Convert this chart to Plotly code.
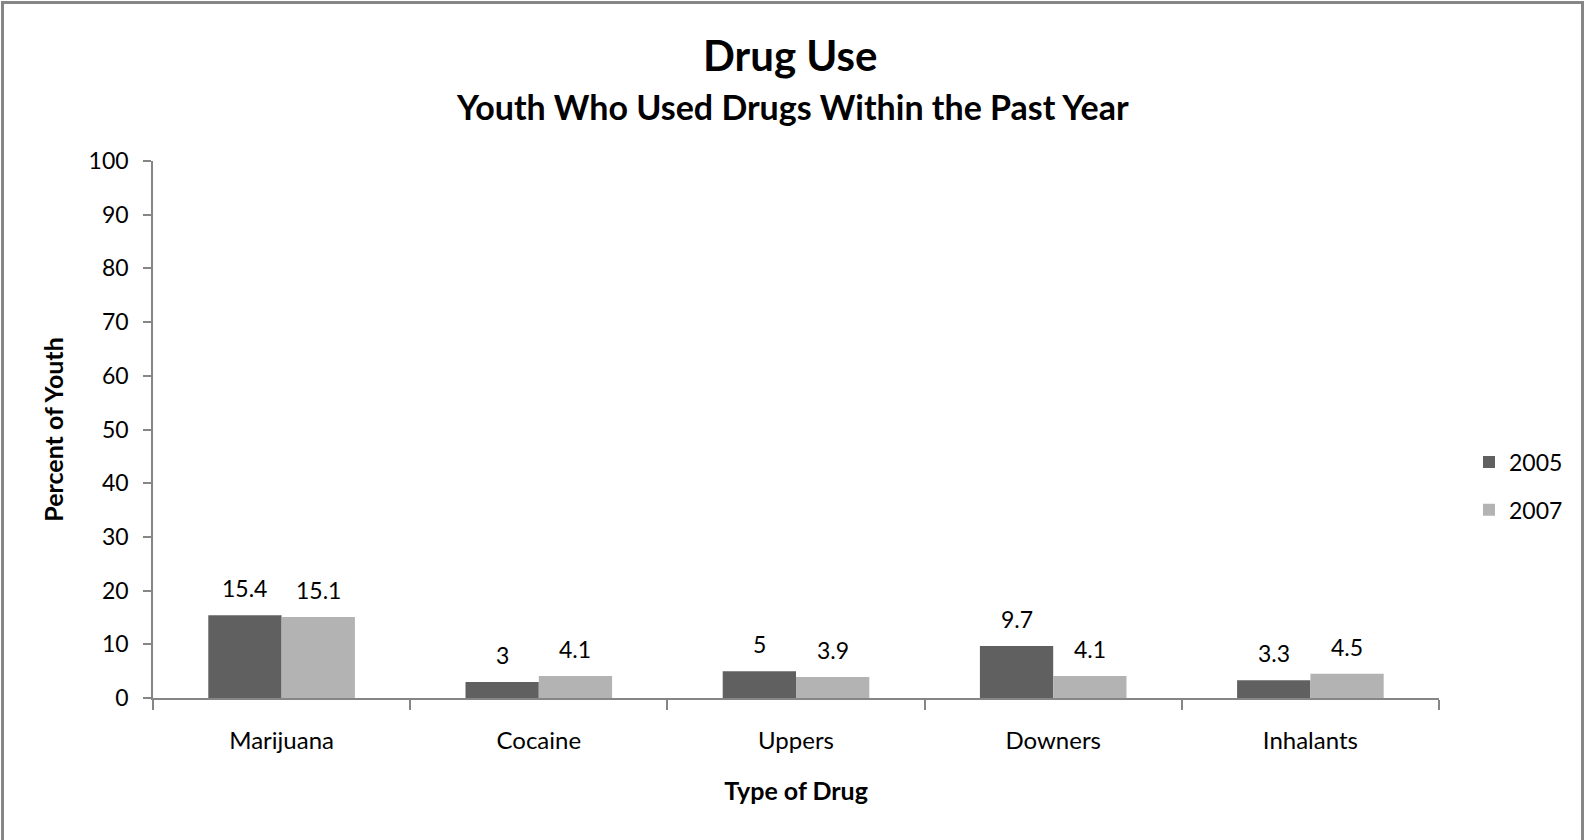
import plotly.graph_objects as go

categories = ["Marijuana", "Cocaine", "Uppers", "Downers", "Inhalants"]
values_2005 = [15.4, 3, 5, 9.7, 3.3]
values_2007 = [15.1, 4.1, 3.9, 4.1, 4.5]
series_names = ["2005", "2007"]
y_ticks = list(range(0, 101, 10))

W, H = 1585, 840
L, R, T, B = 153, 146, 161, 142
PW, PH = W - L - R, H - T - B
FONT = "Lato"
AX = "#868686"
COLORS = ["#606060", "#b3b3b3"]
FS = 23


def px(xp):
    return (xp - L) / PW


def py(yp):
    return (H - B - yp) / PH


fig = go.Figure()
for i, (name, vals) in enumerate(zip(series_names, [values_2005, values_2007])):
    fig.add_trace(go.Bar(
        x=categories, y=vals, name=name, marker_color=COLORS[i],
        marker_line_width=0, legendgroup=name,
    ))

annotations = []
bar_w = PW / len(categories) * (1 - 0.43) / 2
for i, vals in enumerate([values_2005, values_2007]):
    off = (i - 0.5) * bar_w
    for c, v in zip(categories, vals):
        annotations.append(dict(
            x=c, y=v, xref="x", yref="y", text=f"{v:g}", showarrow=False,
            xshift=off, yshift=27, yanchor="middle",
            font=dict(family=FONT, size=FS, color="#000"),
        ))

annotations += [
    dict(text="<b>Drug Use</b>", x=px(790), y=py(55), xref="paper", yref="paper",
         showarrow=False, xanchor="center", yanchor="middle",
         font=dict(family=FONT, size=42, color="#000")),
    dict(text="<b>Youth Who Used Drugs Within the Past Year</b>", x=px(792), y=py(106),
         xref="paper", yref="paper", showarrow=False, xanchor="center", yanchor="middle",
         font=dict(family=FONT, size=34, color="#000")),
]

fig.update_layout(
    width=W, height=H,
    margin=dict(l=L, r=R, t=T, b=B, autoexpand=False),
    paper_bgcolor="white", plot_bgcolor="white",
    barmode="group", bargap=0.43, bargroupgap=0,
    font=dict(family=FONT, size=FS, color="#000"),
    annotations=annotations,
    legend=dict(x=px(1469), y=py(486), xanchor="left", yanchor="middle",
                font=dict(family=FONT, size=FS, color="#000"),
                tracegroupgap=15, itemwidth=30, bgcolor="rgba(0,0,0,0)"),
    shapes=[dict(type="rect", xref="paper", yref="paper",
                 x0=px(2.5), x1=px(1582.5), y0=py(2.5), y1=py(900),
                 line=dict(color=AX, width=3))],
    showlegend=True,
)
fig.update_xaxes(
    showline=True, linecolor=AX, linewidth=1.5,
    ticks="outside", tickson="boundaries", ticklen=10, tickcolor=AX, tickwidth=1.5,
    tickfont=dict(family=FONT, size=24), ticklabelstandoff=20,
    title=dict(text="<b>Type of Drug</b>", font=dict(family=FONT, size=25), standoff=30),
    showgrid=False,
)
fig.update_yaxes(
    range=[0, 100], tickvals=y_ticks, showline=True, linecolor=AX, linewidth=1.5,
    ticks="outside", ticklen=8, tickcolor=AX, tickwidth=1.5,
    tickfont=dict(family=FONT, size=FS), ticklabelstandoff=10,
    title=dict(text="<b>Percent of Youth</b>", font=dict(family=FONT, size=25), standoff=18),
    showgrid=False, zeroline=False,
)

fig.write_html("out.html", config={"displayModeBar": False},
               post_script="document.body.style.margin='0';document.body.style.overflow='hidden';")
